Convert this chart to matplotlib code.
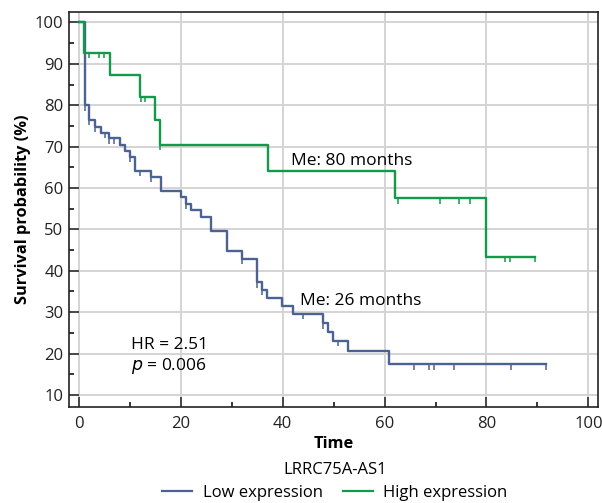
import numpy as np
import matplotlib
matplotlib.use("Agg")
import matplotlib.pyplot as plt
from matplotlib.lines import Line2D
from matplotlib.ticker import MultipleLocator

plt.rcParams['font.family'] = ['Open Sans', 'DejaVu Sans']

# Kaplan-Meier steps (time in months, survival in %)
low_times = [0, 1.2, 2.0, 3.2, 4.3, 6.0, 8.1, 9.0, 10.0, 11.0, 14.2, 16.2,
             20.0, 21.1, 22.0, 24.0, 26.0, 29.0, 32.0, 35.0, 35.9, 36.9,
             39.9, 42.0, 47.9, 48.9, 49.9, 52.9, 60.9]
low_surv = [100, 80.0, 76.4, 74.8, 73.4, 72.0, 70.3, 68.9, 67.5, 64.1, 62.7, 59.3,
            57.8, 56.2, 54.6, 53.0, 49.6, 44.7, 42.9, 37.2, 35.4, 33.5,
            31.4, 29.6, 27.3, 25.2, 23.1, 20.5, 17.4]
low_censor = [1.2, 2.0, 3.2, 5.1, 6.0, 6.8, 10.0, 12.0, 14.2, 21.1, 32.0, 35.0,
              35.9, 43.9, 47.9, 50.9, 65.8, 68.8, 69.7, 73.6, 84.8, 91.7]

high_times = [0, 1.1, 6.1, 12.0, 15.0, 16.0, 37.1, 62.0, 79.9]
high_surv = [100, 92.6, 87.3, 82.1, 76.4, 70.4, 64.0, 57.5, 43.3]
high_censor = [2.0, 4.0, 5.0, 12.1, 12.9, 16.0, 62.6, 70.8, 74.7, 76.7,
               83.7, 84.7, 89.6]

group_title = "LRRC75A-AS1"
group_names = ["Low expression", "High expression"]
low_color = '#4c6292'
high_color = '#12994a'


def draw_km(ax, times, surv, censor, color):
    # extend the last step up to the last censored case
    t = list(times) + [max(censor)]
    s = list(surv) + [surv[-1]]
    ax.step(t, s, where='post', color=color, lw=1.7, zorder=3)
    idx = np.searchsorted(times, censor, side='right') - 1
    levels = np.array(surv)[idx]
    ax.vlines(censor, levels - 1.3, levels, color=color, lw=1.1, zorder=3)


fig = plt.figure(figsize=(6.02, 5.03), dpi=100)
ax = fig.add_axes([0.1146, 0.191, 0.8788, 0.785])

draw_km(ax, low_times, low_surv, low_censor, low_color)
draw_km(ax, high_times, high_surv, high_censor, high_color)

ax.set_xlim(-1.94, 101.9)
ax.set_ylim(7.1, 102.5)
ax.xaxis.set_major_locator(MultipleLocator(20))
ax.xaxis.set_minor_locator(MultipleLocator(10))
ax.yaxis.set_major_locator(MultipleLocator(10))
ax.yaxis.set_minor_locator(MultipleLocator(5))
ax.tick_params(which='major', direction='in', length=7, width=1.1,
               labelsize=12, pad=4, colors='#222222')
ax.tick_params(axis='x', which='major', pad=6.5)
ax.tick_params(which='minor', direction='in', length=3.5, width=1.1)
ax.grid(which='major', color='#d4d4d4', lw=1.4, zorder=0)
ax.set_axisbelow(True)
for sp in ax.spines.values():
    sp.set_linewidth(1.2)
    sp.set_color('#222222')

ax.set_xlabel("Time", fontsize=11.8, fontweight='bold', labelpad=3)
ax.set_ylabel("Survival probability (%)", fontsize=11.8, fontweight='bold', labelpad=3)

ax.text(41.6, 66.4, "Me: 80 months", fontsize=12.5, va='center', ha='left')
ax.text(43.4, 32.7, "Me: 26 months", fontsize=12.5, va='center', ha='left')
ax.text(10.2, 22.1, "HR = 2.51", fontsize=12.5, va='center', ha='left')
ax.text(10.2, 16.9, r"$p$ = 0.006", fontsize=12.5, va='center', ha='left')

handles = [Line2D([0], [0], color=low_color, lw=1.6),
           Line2D([0], [0], color=high_color, lw=1.6)]
fig.legend(handles, group_names, title=group_title, loc='upper center',
           bbox_to_anchor=(0.556, 0.099), ncol=2, frameon=False, fontsize=12,
           title_fontsize=12, handlelength=1.8, columnspacing=1.2,
           handletextpad=0.65, borderpad=0.05, labelspacing=0.4)

fig.savefig("out.png", dpi=100)
